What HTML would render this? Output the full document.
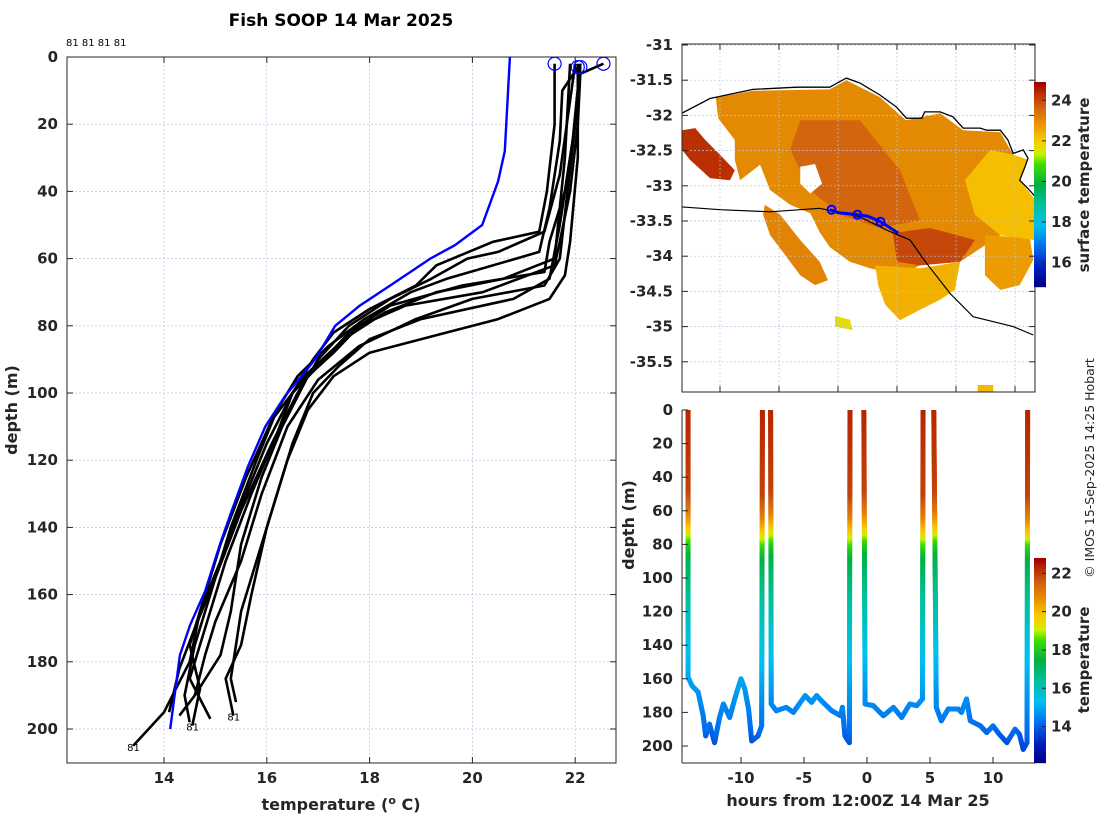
<!DOCTYPE html>
<html><head><meta charset="utf-8"><title>Fish SOOP 14 Mar 2025</title>
<style>
html,body{margin:0;padding:0;background:#fff;}
svg{display:block;font-family:"DejaVu Sans","Liberation Sans",sans-serif;}
.tk{font-size:15px;font-weight:bold;fill:#262626;}
.lb{font-size:16px;font-weight:bold;fill:#262626;}
</style></head>
<body>
<svg id="fig" width="1100" height="820" viewBox="0 0 1100 820" xmlns="http://www.w3.org/2000/svg">
<defs>
<clipPath id="clipL"><rect x="67" y="57" width="549" height="706"/></clipPath>
<clipPath id="clipM"><rect x="682" y="44" width="353" height="348"/></clipPath>
<clipPath id="clipB"><rect x="682" y="410" width="353" height="353"/></clipPath>
</defs>
<rect width="1100" height="820" fill="#fff"/>
<text x="341" y="26" text-anchor="middle" style="font-size:17px;font-weight:bold;fill:#000">Fish SOOP 14 Mar 2025</text>
<text x="66" y="46" style="font-size:10px;fill:#000">81 81 81 81</text>
<g id="gL"></g>
<g id="gM"></g>
<g id="gB"></g>
<text x="341" y="810" text-anchor="middle" class="lb">temperature (<tspan dy="-6" style="font-size:11px">o</tspan><tspan dy="6"> C)</tspan></text>
<text transform="translate(17,410) rotate(-90)" text-anchor="middle" class="lb">depth (m)</text>
<text x="858" y="806" text-anchor="middle" class="lb">hours from 12:00Z 14 Mar 25</text>
<text transform="translate(634,525) rotate(-90)" text-anchor="middle" class="lb">depth (m)</text>
<text transform="translate(1089,185) rotate(-90)" text-anchor="middle" class="lb" style="font-size:15px">surface temperature</text>
<text transform="translate(1089,660) rotate(-90)" text-anchor="middle" class="lb" style="font-size:15px">temperature</text>
<text transform="translate(1094,468) rotate(-90)" text-anchor="middle" style="font-size:12.5px;fill:#262626">© IMOS 15-Sep-2025 14:25 Hobart</text>
</svg>
<script>
// ---------- data ----------
const climDepth = [0,28,37,50,56,60,68,74,80,90,101,110,122,135,145,159,169,178,200];
const climTemp  = [20.73,20.63,20.5,20.19,19.66,19.18,18.4,17.81,17.33,16.94,16.35,15.97,15.63,15.32,15.09,14.8,14.51,14.31,14.12];
const p1d=[2,20,40,52,55,62,68,75,82,90,100,115,130,150,165,180,195,205];
const p1t=[21.6,21.6,21.45,21.3,20.4,19.3,18.9,18.0,17.3,16.9,16.5,16.0,15.6,15.1,14.7,14.5,14.0,13.4];
const p2d=[3,10,25,45,58,66,70,78,86,95,105,120,140,160,175,190,198];
const p2t=[22.05,21.75,21.7,21.5,21.3,19.5,18.8,17.9,17.2,16.6,16.2,15.8,15.3,14.9,14.6,14.4,14.5];
const p3d=[3,20,40,55,64,68,74,82,92,100,112,130,150,170,185,197];
const p3t=[22.1,22.0,21.8,21.5,21.4,19.8,18.4,17.6,17.0,16.5,16.2,15.7,15.2,14.8,14.5,14.9];
const p4d=[2,5,20,40,55,62,70,74,80,88,95,110,125,145,165,178,190,196];
const p4t=[22.55,22.1,22.05,21.9,21.7,21.6,20.2,18.7,17.8,17.3,16.8,16.3,15.9,15.5,15.3,15.1,14.6,14.3];
const p5d=[2,25,50,66,72,78,84,92,100,115,130,150,165,175,185,192];
const p5t=[22.1,21.95,21.7,21.5,20.8,19.0,18.0,17.4,16.9,16.5,16.2,15.8,15.5,15.4,15.3,15.4];
const p6d=[2,30,55,65,72,78,82,88,95,105,120,140,160,175,185,196];
const p6t=[22.05,22.05,21.9,21.8,21.5,20.5,19.5,18.0,17.3,16.8,16.4,16.0,15.7,15.5,15.2,15.35];
const p7d=[2,35,52,58,60,66,72,80,90,100,115,135,155,170,182,195];
const p7t=[22.0,21.7,21.4,20.5,19.9,19.2,18.4,17.6,17.0,16.6,16.1,15.5,15.0,14.6,14.3,14.1];
const p8d=[2,30,60,66,70,76,84,94,108,125,145,160,175,188,199];
const p8t=[21.9,21.8,21.6,20.6,19.3,18.3,17.5,16.8,16.1,15.6,15.1,14.8,14.5,14.7,14.55];
const p9d=[2,20,60,68,72,78,86,96,110,130,150,168,178,190];
const p9t=[22.1,22.0,21.7,21.4,20.0,18.9,17.8,17.0,16.4,15.9,15.5,15.0,14.8,14.6];
const surfaceTemps=[21.6,22.05,22.1,22.55];
const surfaceDepths=[2,3,3,2];
const leftXTicks=[14,16,18,20,22];
const leftYTicks=[0,20,40,60,80,100,120,140,160,180,200];

const mapLonTicks=[129,130,131,132,133,134];
const mapLatTicks=[-31,-31.5,-32,-32.5,-33,-33.5,-34,-34.5,-35,-35.5];
const sstTicks=[16,18,20,22,24];
const coastLon=[128.35,128.83,129.56,130.30,130.86,131.14,131.37,131.71,131.99,132.16,132.42,132.47,132.73,132.95,133.12,133.41,133.52,133.75,133.88,133.97,134.14,134.22,134.17,134.08,134.22,134.34];
const coastLat=[-31.97,-31.76,-31.63,-31.60,-31.60,-31.47,-31.54,-31.71,-31.88,-32.04,-32.04,-31.95,-31.95,-32.02,-32.18,-32.18,-32.21,-32.21,-32.35,-32.54,-32.49,-32.61,-32.73,-32.92,-33.04,-33.15];
const isoLon=[128.35,129.0,129.85,130.69,131.37,131.83,132.22,132.50,132.90,133.29,133.97,134.31];
const isoLat=[-33.30,-33.34,-33.37,-33.32,-33.44,-33.63,-33.77,-34.10,-34.53,-34.86,-35.00,-35.12];
const trackLon=[130.86,131.0,131.33,131.5,131.72,132.02];
const trackLat=[-33.34,-33.38,-33.41,-33.43,-33.51,-33.67];
const stationLon=[130.89,131.33,131.72];
const stationLat=[-33.34,-33.41,-33.51];
// SST regions: lon/lat polygons with temperature values
const sstRegionTemp=[23.0,24.3,23.1,23.6,24.0,22.4,22.7,22.2,21.7,22.3];
const sstRegionLon=[
 [128.93,129.56,130.86,131.14,131.71,132.15,132.73,133.12,133.75,133.97,134.22,134.08,134.34,134.34,133.75,133.07,132.39,132.05,131.54,131.20,130.86,130.69,130.53,130.19,129.85,129.68,129.34,129.25,129.25,128.97],
 [128.36,128.58,128.75,129.0,129.25,129.17,128.83,128.49,128.36],
 [129.76,130.02,130.36,130.69,130.83,130.61,130.36,130.10,129.85,129.73],
 [130.36,131.37,132.05,132.39,131.71,131.03,130.53,130.19],
 [131.93,132.56,133.32,133.07,132.39,132.0],
 [131.63,132.39,133.07,132.98,132.73,132.39,132.05,131.80,131.68],
 [133.49,134.25,134.31,134.08,133.75,133.49],
 [133.58,133.97,134.22,134.08,134.34,134.34,133.75,133.32,133.15],
 [130.95,131.2,131.25,130.95],
 [133.37,133.63,133.63,133.37]
];
const sstRegionLat=[
 [-31.75,-31.65,-31.63,-31.50,-31.74,-32.07,-31.97,-32.21,-32.24,-32.56,-32.63,-32.92,-33.20,-33.77,-33.70,-34.08,-34.13,-34.27,-34.17,-34.08,-33.87,-33.66,-33.39,-33.27,-33.06,-32.70,-32.92,-32.63,-32.35,-32.04],
 [-32.21,-32.18,-32.35,-32.56,-32.78,-32.92,-32.89,-32.63,-32.49],
 [-33.27,-33.41,-33.77,-34.08,-34.34,-34.41,-34.27,-33.98,-33.70,-33.41],
 [-32.07,-32.07,-32.78,-33.49,-33.60,-33.41,-33.06,-32.49],
 [-33.67,-33.60,-33.77,-34.08,-34.13,-34.08],
 [-34.13,-34.17,-34.08,-34.48,-34.62,-34.76,-34.91,-34.69,-34.41],
 [-33.70,-33.74,-34.05,-34.41,-34.48,-34.27],
 [-32.49,-32.56,-32.63,-32.92,-33.20,-33.77,-33.70,-33.41,-32.92],
 [-34.85,-34.9,-35.05,-35.0],
 [-35.83,-35.83,-35.94,-35.94]
];
const holeLon=[130.36,130.61,130.73,130.53,130.36];
const holeLat=[-32.73,-32.69,-32.97,-33.11,-32.97];

const traceHours=[-14.2,-14.2,-13.9,-13.4,-13.0,-12.8,-12.5,-12.1,-11.7,-11.4,-10.9,-10.5,-10.0,-9.7,-9.4,-9.15,-8.65,-8.36,-8.3,
 -7.65,-7.6,-7.2,-6.4,-5.85,-4.9,-4.4,-4.0,-3.5,-2.8,-2.1,-1.95,-1.75,-1.4,-1.35,
 -0.25,-0.15,0.5,1.3,2.1,2.75,3.4,3.95,4.4,4.45,
 5.3,5.5,5.9,6.45,7.25,7.5,7.9,8.2,9.0,9.5,10.0,10.5,11.1,11.75,12.1,12.4,12.7,12.75];
const traceDepth=[0,159,164,168,182,194,187,198,183,175,183,172,160,166,178,197,194,188,0,
 0,175,179,177,180,170,174,170,174,179,182,177,194,198,0,
 0,175,176,182,177,183,175,176,172,0,
 0,177,185,178,178,180,172,185,188,192,188,193,198,190,193,202,198,0];
const traceBreaks=[18,33,43]; // last index of each up-cast segment
const profileDepthForColor=[0,50,62,70,76,82,90,110,140,160,175,190,205];
const profileTempForColor=[22.3,21.9,21.0,20.0,19.0,18.0,17.3,16.5,15.5,15.0,14.6,14.2,13.5];
const bottomXTicks=[-10,-5,0,5,10];
const bottomYTicks=[0,20,40,60,80,100,120,140,160,180,200];
const tempCbTicks=[14,16,18,20,22];

// ---------- scales ----------
const xL=t=>164+(t-14)*51.4, yL=d=>57+d*3.36;
const xM=lon=>720+(lon-129)*59, yM=lat=>45+(-31-lat)*70.4;
const xB=h=>867+h*12.6, yB=d=>410+d*1.68;
const NS="http://www.w3.org/2000/svg";
function mk(tag,attrs,parent){const e=document.createElementNS(NS,tag);for(const k in attrs)e.setAttribute(k,attrs[k]);parent.appendChild(e);return e;}
const stops=[[0,[0,0,127]],[0.1,[0,32,192]],[0.2,[0,112,240]],[0.3,[0,192,240]],[0.4,[0,192,160]],[0.5,[0,176,64]],[0.6,[64,224,0]],[0.65,[208,240,0]],[0.72,[248,200,0]],[0.8,[232,144,0]],[0.88,[208,96,16]],[0.95,[184,40,0]],[1,[154,0,0]]];
function cmap(f){f=Math.max(0,Math.min(1,f));for(let i=1;i<stops.length;i++){if(f<=stops[i][0]){const a=stops[i-1],b=stops[i];const u=(f-a[0])/(b[0]-a[0]);const c=a[1].map((v,j)=>Math.round(v+(b[1][j]-v)*u));return `rgb(${c[0]},${c[1]},${c[2]})`;}}return 'rgb(154,0,0)';}
function interp(xs,ys,x){if(x<=xs[0])return ys[0];for(let i=1;i<xs.length;i++){if(x<=xs[i]){const u=(x-xs[i-1])/(xs[i]-xs[i-1]);return ys[i-1]+(ys[i]-ys[i-1])*u;}}return ys[ys.length-1];}

// ---------- left panel ----------
const gL=document.getElementById('gL');
leftXTicks.forEach(t=>{
 const g=mk('line',{x1:xL(t),x2:xL(t),y1:57,y2:763,stroke:'#b8c4e0','stroke-width':0.7,'stroke-dasharray':'2,2'},gL);
 
 
 mk('line',{x1:xL(t),x2:xL(t),y1:763,y2:757,stroke:'#262626'},gL);
 mk('line',{x1:xL(t),x2:xL(t),y1:57,y2:63,stroke:'#262626'},gL);
 const tx=mk('text',{x:xL(t),y:783,'text-anchor':'middle',class:'tk'},gL);tx.textContent=t;
 
 
});
leftYTicks.forEach(d=>{
 const g=mk('line',{x1:67,x2:616,y1:yL(d),y2:yL(d),stroke:'#b8c4e0','stroke-width':0.7,'stroke-dasharray':'2,2'},gL);
 
 
 mk('line',{x1:67,x2:73,y1:yL(d),y2:yL(d),stroke:'#262626'},gL);
 mk('line',{x1:616,x2:610,y1:yL(d),y2:yL(d),stroke:'#262626'},gL);
 const tx=mk('text',{x:58,y:yL(d)+5,'text-anchor':'end',class:'tk'},gL);tx.textContent=d;
 
 
});
const plotL=mk('g',{'clip-path':'url(#clipL)'},gL);
const profs=[[p1d,p1t],[p2d,p2t],[p3d,p3t],[p4d,p4t],[p5d,p5t],[p6d,p6t],[p7d,p7t],[p8d,p8t],[p9d,p9t]];
profs.forEach((p,i)=>{
 const pts=p[0].map((d,j)=>xL(p[1][j]).toFixed(1)+','+yL(d).toFixed(1)).join(' ');
 const pl=mk('polyline',{points:pts,fill:'none',stroke:'#000','stroke-width':2.6,'stroke-linejoin':'round'},plotL);
 
 
});
const clim=mk('polyline',{points:climDepth.map((d,j)=>xL(climTemp[j]).toFixed(1)+','+yL(d).toFixed(1)).join(' '),fill:'none',stroke:'#0000ff','stroke-width':2.4},plotL);


surfaceTemps.forEach((t,i)=>{
 const c=mk('circle',{cx:xL(t),cy:yL(surfaceDepths[i]),r:6.5,fill:'none',stroke:'#0000ff','stroke-width':1.2},gL);
 
 
});
[[13.4,205],[14.55,199],[15.35,196]].forEach(v=>{
 const tx=mk('text',{x:xL(v[0])-6,y:yL(v[1])+5,style:'font-size:10px;fill:#000'},gL);tx.textContent='81';
 
 
});
const frL=mk('rect',{x:67,y:57,width:549,height:706,fill:'none',stroke:'#262626','stroke-width':1},gL);



// ---------- map panel ----------
const gM=document.getElementById('gM');
mapLonTicks.forEach(l=>{
 const tx=mk('text',{x:xM(l),y:421,'text-anchor':'middle',class:'tk'},gM);tx.textContent=l;
 
 
});
const plotM=mk('g',{'clip-path':'url(#clipM)'},gM);
sstRegionTemp.forEach((t,i)=>{
 const pts=sstRegionLon[i].map((lo,j)=>xM(lo).toFixed(1)+','+yM(sstRegionLat[i][j]).toFixed(1)).join(' ');
 const pg=mk('polygon',{points:pts,fill:cmap((t-14.8)/10.1),stroke:'none'},plotM);
 
 
});
const hole=mk('polygon',{points:holeLon.map((lo,j)=>xM(lo)+','+yM(holeLat[j])).join(' '),fill:'#fff'},plotM);


mapLonTicks.forEach(l=>{
 const g=mk('line',{x1:xM(l),x2:xM(l),y1:44,y2:392,stroke:'#b8c4e0','stroke-width':0.7,'stroke-dasharray':'2,2'},plotM);
 
 
 mk('line',{x1:xM(l),x2:xM(l),y1:392,y2:386,stroke:'#262626'},gM);
 mk('line',{x1:xM(l),x2:xM(l),y1:44,y2:50,stroke:'#262626'},gM);
});
mapLatTicks.forEach(l=>{
 const g=mk('line',{x1:682,x2:1035,y1:yM(l),y2:yM(l),stroke:'#b8c4e0','stroke-width':0.7,'stroke-dasharray':'2,2'},plotM);
 
 
 mk('line',{x1:682,x2:688,y1:yM(l),y2:yM(l),stroke:'#262626'},gM);
 mk('line',{x1:1035,x2:1029,y1:yM(l),y2:yM(l),stroke:'#262626'},gM);
 const tx=mk('text',{x:673,y:yM(l)+5,'text-anchor':'end',class:'tk'},gM);tx.textContent=l;
 
 
});
const coast=mk('polyline',{points:coastLon.map((lo,j)=>xM(lo).toFixed(1)+','+yM(coastLat[j]).toFixed(1)).join(' '),fill:'none',stroke:'#000','stroke-width':1.3},plotM);


const iso=mk('polyline',{points:isoLon.map((lo,j)=>xM(lo).toFixed(1)+','+yM(isoLat[j]).toFixed(1)).join(' '),fill:'none',stroke:'#000','stroke-width':1.2},plotM);


const trk=mk('polyline',{points:trackLon.map((lo,j)=>xM(lo).toFixed(1)+','+yM(trackLat[j]).toFixed(1)).join(' '),fill:'none',stroke:'#0000ff','stroke-width':3},plotM);


stationLon.forEach((lo,j)=>{
 const c=mk('circle',{cx:xM(lo),cy:yM(stationLat[j]),r:4,fill:'none',stroke:'#0000ff','stroke-width':2},plotM);
 
 
});
const frM=mk('rect',{x:682,y:44,width:353,height:348,fill:'none',stroke:'#262626'},gM);


// sst colorbar
const cbM=mk('g',{},gM);


const cbMin=14.8,cbMax=24.9,cbTop=82,cbBot=287;
for(let y=cbTop;y<cbBot;y++){const t=cbMax-(y-cbTop+0.5)/(cbBot-cbTop)*(cbMax-cbMin);mk('rect',{x:1034,y:y,width:12,height:1.2,fill:cmap((t-cbMin)/(cbMax-cbMin))},cbM);}
sstTicks.forEach(t=>{const y=cbBot-(t-cbMin)/(cbMax-cbMin)*(cbBot-cbTop);
 mk('line',{x1:1046,x2:1042,y1:y,y2:y,stroke:'#262626'},cbM);
 const tx=mk('text',{x:1051,y:y+5,class:'tk'},cbM);tx.textContent=t;
 
 });

// ---------- bottom panel ----------
const gB=document.getElementById('gB');
mk('rect',{x:682,y:409.5,width:353,height:353,fill:'#fff'},gB);
const plotB=mk('g',{'clip-path':'url(#clipB)'},gB);
const colorAt=d=>{const t=interp(profileDepthForColor,profileTempForColor,d);return cmap((t-12.1)/10.7);};
for(let i=0;i<traceHours.length-1;i++){
 if(traceBreaks.includes(i))continue;
 const h0=traceHours[i],h1=traceHours[i+1],d0=traceDepth[i],d1=traceDepth[i+1];
 const n=Math.max(1,Math.ceil(Math.hypot(xB(h1)-xB(h0),yB(d1)-yB(d0))/2));
 for(let k=0;k<n;k++){
  const a=k/n,b=(k+1)/n;
  const seg=mk('line',{x1:xB(h0+(h1-h0)*a),y1:yB(d0+(d1-d0)*a),x2:xB(h0+(h1-h0)*b),y2:yB(d0+(d1-d0)*b),stroke:colorAt(d0+(d1-d0)*(a+b)/2),'stroke-width':5,'stroke-linecap':'round'},plotB);
  
  
 }
}
bottomXTicks.forEach(h=>{
 mk('line',{x1:xB(h),x2:xB(h),y1:763,y2:757,stroke:'#262626'},gB);
 const tx=mk('text',{x:xB(h),y:783,'text-anchor':'middle',class:'tk'},gB);tx.textContent=h;
 
 
});
bottomYTicks.forEach(d=>{
 mk('line',{x1:682,x2:688,y1:yB(d),y2:yB(d),stroke:'#262626'},gB);
 const tx=mk('text',{x:673,y:yB(d)+5,'text-anchor':'end',class:'tk'},gB);tx.textContent=d;
 
 
});
mk('line',{x1:682,x2:682,y1:410,y2:763,stroke:'#262626'},gB);
mk('line',{x1:682,x2:1035,y1:763,y2:763,stroke:'#262626'},gB);
const cbB=mk('g',{},gB);


const bMin=12.1,bMax=22.8,bTop=558,bBot=763;
for(let y=bTop;y<bBot;y++){const t=bMax-(y-bTop+0.5)/(bBot-bTop)*(bMax-bMin);mk('rect',{x:1034,y:y,width:12,height:1.2,fill:cmap((t-bMin)/(bMax-bMin))},cbB);}
tempCbTicks.forEach(t=>{const y=bBot-(t-bMin)/(bMax-bMin)*(bBot-bTop);
 mk('line',{x1:1046,x2:1042,y1:y,y2:y,stroke:'#262626'},cbB);
 const tx=mk('text',{x:1051,y:y+5,class:'tk'},cbB);tx.textContent=t;
 
 });
</script>
</body></html>
